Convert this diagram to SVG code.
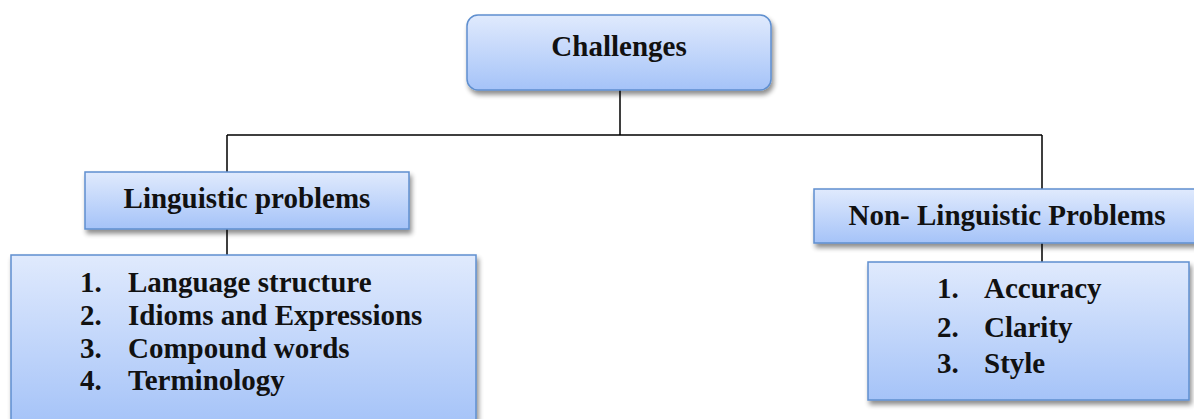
<svg xmlns="http://www.w3.org/2000/svg" width="1194" height="419" viewBox="0 0 1194 419">
<style>
.box{fill:url(#g);stroke:#5f8fcf;stroke-width:1.5;filter:url(#sh)}
.t{font-family:"Liberation Serif","Times New Roman",serif;font-weight:bold;font-size:29px;fill:#111}
.c{text-anchor:middle}
.ln{stroke:#000;stroke-width:1.5;fill:none}
</style>
<defs>
<linearGradient id="g" x1="0" y1="0" x2="0" y2="1">
<stop offset="0" stop-color="#e0eafd"/>
<stop offset="1" stop-color="#a5c3f8"/>
</linearGradient>
<filter id="sh" x="-10%" y="-10%" width="130%" height="140%">
<feGaussianBlur in="SourceAlpha" stdDeviation="2.5"/>
<feOffset dx="2" dy="4" result="b"/>
<feComponentTransfer><feFuncA type="linear" slope="0.45"/></feComponentTransfer>
<feMerge><feMergeNode/><feMergeNode in="SourceGraphic"/></feMerge>
</filter>
</defs>
<g id="connectors">
<path class="ln" d="M620 90V135M227 135H1042M227 135V172M227 229V255M1042 135V189M1042 243V262"/>
</g>
<g id="challenges">
<rect class="box" x="467" y="15" width="304" height="75" rx="11"/>
<text class="t c" x="619" y="56">Challenges</text>
</g>
<g id="linguistic">
<rect class="box" x="85" y="172" width="324" height="57"/>
<text class="t c" x="247" y="208">Linguistic problems</text>
</g>
<g id="linguistic-list">
<rect class="box" x="11" y="255" width="465" height="170"/>
<text class="t" x="80" y="292">1.</text><text class="t" x="128" y="292">Language structure</text>
<text class="t" x="80" y="325">2.</text><text class="t" x="128" y="325">Idioms and Expressions</text>
<text class="t" x="80" y="358">3.</text><text class="t" x="128" y="358">Compound words</text>
<text class="t" x="80" y="390">4.</text><text class="t" x="128" y="390">Terminology</text>
</g>
<g id="non-linguistic">
<rect class="box" x="814" y="189" width="385" height="54"/>
<text class="t c" x="1007" y="225">Non- Linguistic Problems</text>
</g>
<g id="non-linguistic-list">
<rect class="box" x="868" y="262" width="321" height="138"/>
<text class="t" x="937" y="298">1.</text><text class="t" x="984" y="298">Accuracy</text>
<text class="t" x="937" y="337">2.</text><text class="t" x="984" y="337">Clarity</text>
<text class="t" x="937" y="373">3.</text><text class="t" x="984" y="373">Style</text>
</g>
</svg>
